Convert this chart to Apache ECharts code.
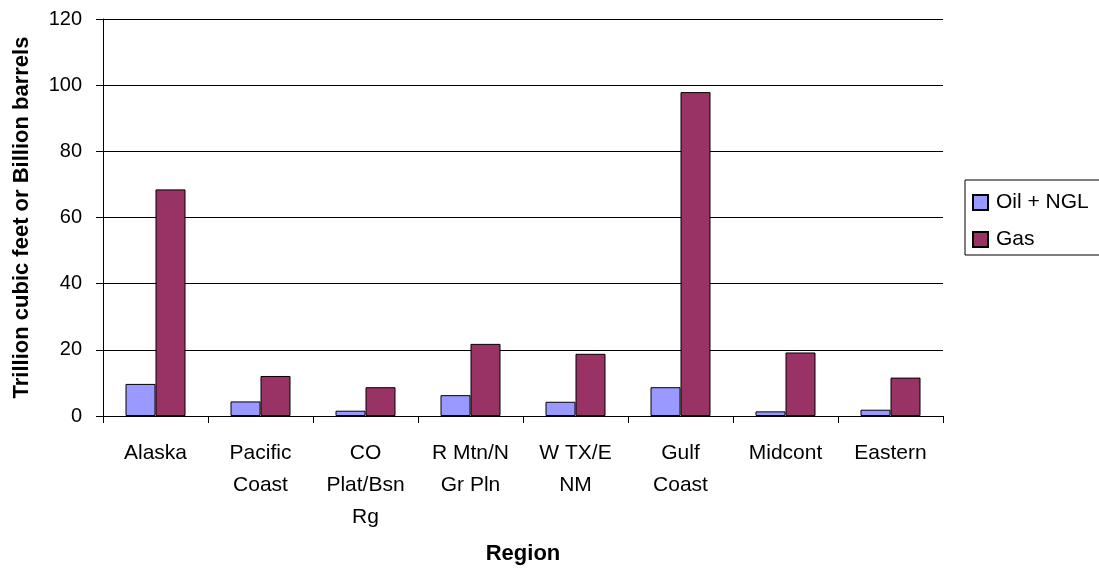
<!DOCTYPE html>
<html>
<head>
<meta charset="utf-8">
<script src="https://cdn.jsdelivr.net/npm/echarts@6/dist/echarts.min.js"></script>
<style>
  html, body { margin: 0; padding: 0; background: #fff; }
  #chart { width: 1099px; height: 570px; }
</style>
</head>
<body>
<div id="chart"></div>
<script>
// Undiscovered resources by region
const regions = ['Alaska', 'Pacific\nCoast', 'CO\nPlat/Bsn\nRg', 'R Mtn/N\nGr Pln', 'W TX/E\nNM', 'Gulf\nCoast', 'Midcont', 'Eastern'];
const oilNgl = [9.7, 4.4, 1.6, 6.3, 4.3, 8.7, 1.4, 1.9];
const gas = [68.5, 12.1, 8.7, 21.8, 18.8, 97.9, 19.2, 11.6];
const yTicks = { min: 0, max: 120, interval: 20 };

const font = 'Liberation Sans, Arial, sans-serif';
const chart = echarts.init(document.getElementById('chart'), null, { renderer: 'canvas' });

chart.setOption({
  animation: false,
  backgroundColor: '#ffffff',
  textStyle: { fontFamily: font, color: '#000' },
  grid: { left: 103, right: 156, top: 19, bottom: 154, containLabel: false },
  legend: {
    orient: 'vertical',
    left: 965,
    top: 180,
    padding: [12, 18, 5, 7],
    itemGap: 16,
    itemWidth: 15,
    itemHeight: 15,
    borderColor: '#000',
    borderWidth: 1,
    icon: 'rect',
    textStyle: { fontSize: 21, color: '#000', fontFamily: font, padding: [0, 0, 0, 3] },
    data: ['Oil + NGL', 'Gas']
  },
  xAxis: {
    type: 'category',
    data: regions,
    name: 'Region',
    nameLocation: 'middle',
    nameGap: 127,
    nameTextStyle: { fontSize: 22, fontWeight: 'bold', color: '#000', fontFamily: font },
    axisLine: { show: true, lineStyle: { color: '#000', width: 1 } },
    axisTick: { show: true, alignWithLabel: false, length: 7, lineStyle: { color: '#000' } },
    axisLabel: { fontSize: 21, color: '#000', margin: 21, lineHeight: 32, interval: 0, fontFamily: font },
    splitLine: { show: false }
  },
  yAxis: {
    type: 'value',
    min: yTicks.min,
    max: yTicks.max,
    interval: yTicks.interval,
    name: 'Trillion cubic feet or Billion barrels',
    nameLocation: 'middle',
    nameGap: 70,
    nameTextStyle: { fontSize: 22, fontWeight: 'bold', color: '#000', fontFamily: font },
    axisLine: { show: true, lineStyle: { color: '#000', width: 1 } },
    axisTick: { show: true, inside: false, length: 7, lineStyle: { color: '#000' } },
    axisLabel: { fontSize: 20, color: '#000', margin: 21, fontFamily: font },
    splitLine: { show: true, lineStyle: { color: '#000', width: 1 } }
  },
  series: [
    {
      name: 'Oil + NGL',
      type: 'bar',
      data: oilNgl,
      barWidth: 30,
      barGap: '0%',
      itemStyle: { color: '#9999ff', borderColor: '#000', borderWidth: 1 }
    },
    {
      name: 'Gas',
      type: 'bar',
      data: gas,
      barWidth: 30,
      barGap: '0%',
      itemStyle: { color: '#993366', borderColor: '#000', borderWidth: 1 }
    }
  ]
});
</script>
</body>
</html>
